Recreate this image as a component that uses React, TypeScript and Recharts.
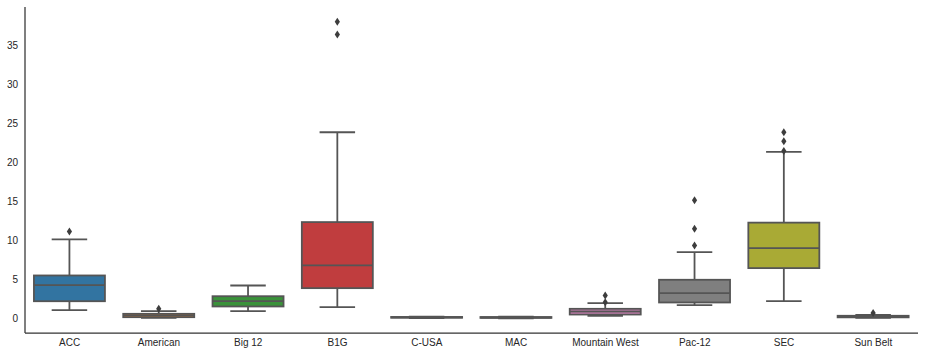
import React from "react";
import { ComposedChart, Bar, XAxis, YAxis } from "recharts";

const conferences = ["ACC", "American", "Big 12", "B1G", "C-USA", "MAC", "Mountain West", "Pac-12", "SEC", "Sun Belt"];
const whiskerLow = [1.11, 0.12, 0.99, 1.5, 0.1, 0.08, 0.4, 1.75, 2.26, 0.12];
const q1 = [2.26, 0.22, 1.59, 3.93, 0.15, 0.13, 0.56, 2.1, 6.49, 0.2];
const median = [4.31, 0.45, 2.26, 6.83, 0.2, 0.18, 0.95, 3.29, 9.05, 0.3];
const q3 = [5.55, 0.65, 2.9, 12.37, 0.25, 0.24, 1.29, 5.0, 12.3, 0.4];
const whiskerHigh = [10.16, 0.99, 4.27, 23.85, 0.3, 0.3, 2.01, 8.53, 21.33, 0.5];
const outliers = [[11.18], [1.3], [], [36.35, 37.97], [], [], [2.14, 2.99], [9.39, 11.53, 15.15], [21.46, 22.7, 23.85], [0.75]];
const yTicks = [0, 5, 10, 15, 20, 25, 30, 35];

const colors = ["#3274a1", "#e1812c", "#3a923a", "#c03d3e", "#9372b2", "#845b53", "#d684bd", "#7f7f7f", "#a9aa35", "#2eabb8"];
const lineColor = "#555555";

const data = conferences.map((name, i) => ({
  name,
  range: [whiskerLow[i], whiskerHigh[i]],
}));

// draws one box from the ranged bar's pixel box (whisker low..high)
const BoxShape = (props: any) => {
  const { x, y, width, height, index } = props;
  const lo = whiskerLow[index];
  const hi = whiskerHigh[index];
  const top = Math.min(y, y + height);
  const h = Math.abs(height);
  const py = (v: number) => top + ((hi - v) / (hi - lo)) * h;
  const cx = x + width / 2;
  const capW = width / 4;
  const yq1 = py(q1[index]);
  const yq3 = py(q3[index]);
  const ymed = py(median[index]);
  const ylo = py(lo);
  const yhi = py(hi);
  return (
    <g>
      <line x1={cx} x2={cx} y1={yhi} y2={yq3} stroke={lineColor} strokeWidth={1.8} />
      <line x1={cx} x2={cx} y1={yq1} y2={ylo} stroke={lineColor} strokeWidth={1.8} />
      <line x1={cx - capW} x2={cx + capW} y1={yhi} y2={yhi} stroke={lineColor} strokeWidth={1.8} />
      <line x1={cx - capW} x2={cx + capW} y1={ylo} y2={ylo} stroke={lineColor} strokeWidth={1.8} />
      <rect x={x} y={yq3} width={width} height={Math.max(yq1 - yq3, 0.5)} fill={colors[index]} stroke={lineColor} strokeWidth={1.8} />
      <line x1={x} x2={x + width} y1={ymed} y2={ymed} stroke={lineColor} strokeWidth={1.8} />
      {outliers[index].map((v, k) => {
        const oy = py(v);
        return (
          <polygon
            key={k}
            points={`${cx},${oy - 4} ${cx + 2.6},${oy} ${cx},${oy + 4} ${cx - 2.6},${oy}`}
            fill="#3d3d3d"
          />
        );
      })}
    </g>
  );
};

export default function App() {
  const tickStyle = { fontSize: 10, fill: "#262626", fontFamily: "Liberation Sans, Arial, sans-serif" };
  return (
    <div style={{ position: "absolute", left: 0, top: 0, background: "#fff" }}>
      <ComposedChart
        width={925}
        height={356}
        data={data}
        margin={{ top: 7, right: 7, left: 0, bottom: 3 }}
        barCategoryGap="10%"
      >
        <XAxis
          dataKey="name"
          tickLine={false}
          tickSize={0}
          tickMargin={6}
          tick={tickStyle}
          stroke="#333333"
          strokeWidth={1.25}
          height={20}
          interval={0}
        />
        <YAxis
          type="number"
          domain={[-1.8, 39.85]}
          ticks={yTicks}
          tickLine={false}
          tickSize={0}
          tickMargin={7}
          tick={tickStyle}
          stroke="#333333"
          strokeWidth={1.25}
          width={25}
          allowDataOverflow
        />
        <Bar dataKey="range" shape={<BoxShape />} isAnimationActive={false} />
      </ComposedChart>
    </div>
  );
}
